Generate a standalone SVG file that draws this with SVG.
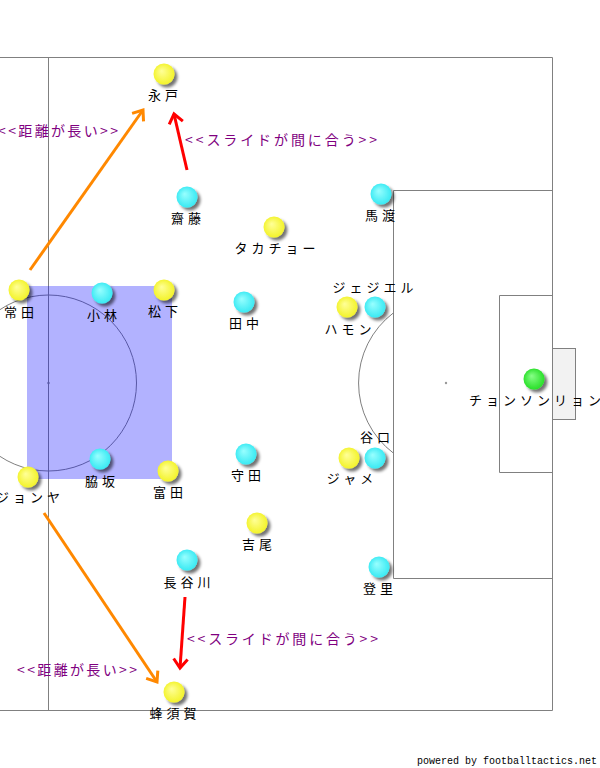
<svg xmlns="http://www.w3.org/2000/svg" width="600" height="768" viewBox="0 0 600 768">
<style>
.line{fill:none;stroke:#808080;stroke-width:1}
.lbl{font-family:"Noto Sans CJK JP","Noto Sans",sans-serif;font-size:13px;fill:#000;text-anchor:middle;letter-spacing:4px}
.note{font-family:"Noto Sans CJK JP","Noto Sans",sans-serif;font-size:14px;fill:#800080}
.credit{font-family:"Liberation Mono","DejaVu Sans Mono",monospace;font-size:10px;fill:#000}
.y{fill:url(#gy)}
.c{fill:url(#gc)}
.g{fill:url(#gg)}
.ball{filter:url(#sh)}
.arr-o{fill:none;stroke:#ff8800;stroke-width:3;marker-end:url(#mo)}
.arr-r{fill:none;stroke:#ff0000;stroke-width:3;marker-end:url(#mr)}
</style>
<defs>
<radialGradient id="gy" cx="50%" cy="50%" r="55%" fx="38%" fy="35%"><stop offset="0" stop-color="#ffff99"/><stop offset="1" stop-color="#f2f222"/></radialGradient>
<radialGradient id="gc" cx="50%" cy="50%" r="55%" fx="38%" fy="35%"><stop offset="0" stop-color="#99ffff"/><stop offset="1" stop-color="#33e8f2"/></radialGradient>
<radialGradient id="gg" cx="50%" cy="50%" r="55%" fx="38%" fy="35%"><stop offset="0" stop-color="#88ff88"/><stop offset="1" stop-color="#22dd22"/></radialGradient>
<filter id="sh" x="-50%" y="-50%" width="200%" height="200%">
<feGaussianBlur in="SourceAlpha" stdDeviation="1.5"/>
<feOffset dx="2.5" dy="2.5" result="b"/>
<feComponentTransfer><feFuncA type="linear" slope="0.55"/></feComponentTransfer>
<feMerge><feMergeNode/><feMergeNode in="SourceGraphic"/></feMerge>
</filter>
<marker id="mo" markerUnits="userSpaceOnUse" markerWidth="16" markerHeight="16" refX="12" refY="7" orient="auto" overflow="visible"><path d="M3,0 L12,7 L3,14" fill="none" stroke="#ff8800" stroke-width="3"/></marker>
<marker id="mr" markerUnits="userSpaceOnUse" markerWidth="16" markerHeight="16" refX="12" refY="7" orient="auto" overflow="visible"><path d="M3,0 L12,7 L3,14" fill="none" stroke="#ff0000" stroke-width="3"/></marker>
</defs>
<rect width="600" height="768" fill="#fff"/>
<g id="pitch">
<path class="line" d="M0,57.5 H552.5 V710.5 H0"/>
<line class="line" x1="48.5" y1="57" x2="48.5" y2="710"/>
<circle class="line" cx="48.5" cy="383" r="88"/>
<circle cx="48.5" cy="383" r="1.2" fill="#808080"/>
<path class="line" d="M552.5,190.5 H393.5 V578.5 H552.5"/>
<path class="line" d="M552.5,295.5 H499.5 V472.5 H552.5"/>
<rect x="552.5" y="348.5" width="23" height="71" fill="#f2f2f2" stroke="#808080"/>
<circle cx="446" cy="383" r="1.2" fill="#999"/>
<path class="line" d="M393.5,312.8 A88,88 0 0 0 393.5,453.2"/>
</g>
<rect id="zone" x="27" y="286" width="145" height="193" fill="#0000ff" fill-opacity="0.3"/>
<g id="connectors">
<line class="arr-o" x1="30" y1="270" x2="143" y2="110"/>
<line class="arr-o" x1="44" y1="513" x2="157" y2="682"/>
<line class="arr-r" x1="187" y1="170" x2="174" y2="114"/>
<line class="arr-r" x1="185" y1="597" x2="180" y2="668"/>
</g>
<g id="notes">
<text class="note" x="-2" y="136" textLength="120" lengthAdjust="spacing">&lt;&lt;距離が長い&gt;&gt;</text>
<text class="note" x="185" y="145" textLength="192" lengthAdjust="spacing">&lt;&lt;スライドが間に合う&gt;&gt;</text>
<text class="note" x="187" y="644" textLength="191" lengthAdjust="spacing">&lt;&lt;スライドが間に合う&gt;&gt;</text>
<text class="note" x="17" y="675" textLength="120" lengthAdjust="spacing">&lt;&lt;距離が長い&gt;&gt;</text>
</g>
<g id="p-nagato"><circle class="ball y" cx="164" cy="74" r="10.5"/><text class="lbl" x="165" y="100">永戸</text></g>
<g id="p-saito"><circle class="ball c" cx="187" cy="197" r="10.5"/><text class="lbl" x="188" y="223">齋藤</text></g>
<g id="p-takacho"><circle class="ball y" cx="274" cy="227" r="10.5"/><text class="lbl" x="277" y="253">タカチョー</text></g>
<g id="p-mawatari"><circle class="ball c" cx="381" cy="194" r="10.5"/><text class="lbl" x="382" y="220">馬渡</text></g>
<g id="p-tokita"><circle class="ball y" cx="19" cy="290" r="10.5"/><text class="lbl" x="21" y="317">常田</text></g>
<g id="p-kobayashi"><circle class="ball c" cx="102" cy="293" r="10.5"/><text class="lbl" x="104" y="320">小林</text></g>
<g id="p-matsushita"><circle class="ball y" cx="164" cy="290" r="10.5"/><text class="lbl" x="165" y="316">松下</text></g>
<g id="p-tanaka"><circle class="ball c" cx="244" cy="302" r="10.5"/><text class="lbl" x="246" y="328">田中</text></g>
<g id="p-jesiel"><circle class="ball c" cx="375" cy="307" r="10.5"/><text class="lbl" x="375" y="292">ジェジエル</text></g>
<g id="p-hamon"><circle class="ball y" cx="347" cy="307" r="10.5"/><text class="lbl" x="350" y="334">ハモン</text></g>
<g id="p-jung"><circle class="ball g" cx="534" cy="379" r="10.5"/><text class="lbl" x="537" y="405">チョンソンリョン</text></g>
<g id="p-taniguchi"><circle class="ball c" cx="375" cy="458" r="10.5"/><text class="lbl" x="377" y="442">谷口</text></g>
<g id="p-jame"><circle class="ball y" cx="349" cy="458" r="10.5"/><text class="lbl" x="352" y="483">ジャメ</text></g>
<g id="p-morita"><circle class="ball c" cx="246" cy="454" r="10.5"/><text class="lbl" x="248" y="480">守田</text></g>
<g id="p-wakizaka"><circle class="ball c" cx="100" cy="459" r="10.5"/><text class="lbl" x="102" y="486">脇坂</text></g>
<g id="p-tomita"><circle class="ball y" cx="168" cy="471" r="10.5"/><text class="lbl" x="170" y="497">富田</text></g>
<g id="p-jonya"><circle class="ball y" cx="28" cy="477" r="10.5"/><text class="lbl" x="30" y="502">ジョンヤ</text></g>
<g id="p-yoshio"><circle class="ball y" cx="257" cy="523" r="10.5"/><text class="lbl" x="259" y="549">吉尾</text></g>
<g id="p-hasegawa"><circle class="ball c" cx="187" cy="560" r="10.5"/><text class="lbl" x="189" y="587">長谷川</text></g>
<g id="p-noborizato"><circle class="ball c" cx="379" cy="567" r="10.5"/><text class="lbl" x="380" y="593">登里</text></g>
<g id="p-hachisuka"><circle class="ball y" cx="174" cy="692" r="10.5"/><text class="lbl" x="175" y="718">蜂須賀</text></g>
<text class="credit" x="597" y="764" text-anchor="end">powered by footballtactics.net</text>
</svg>
